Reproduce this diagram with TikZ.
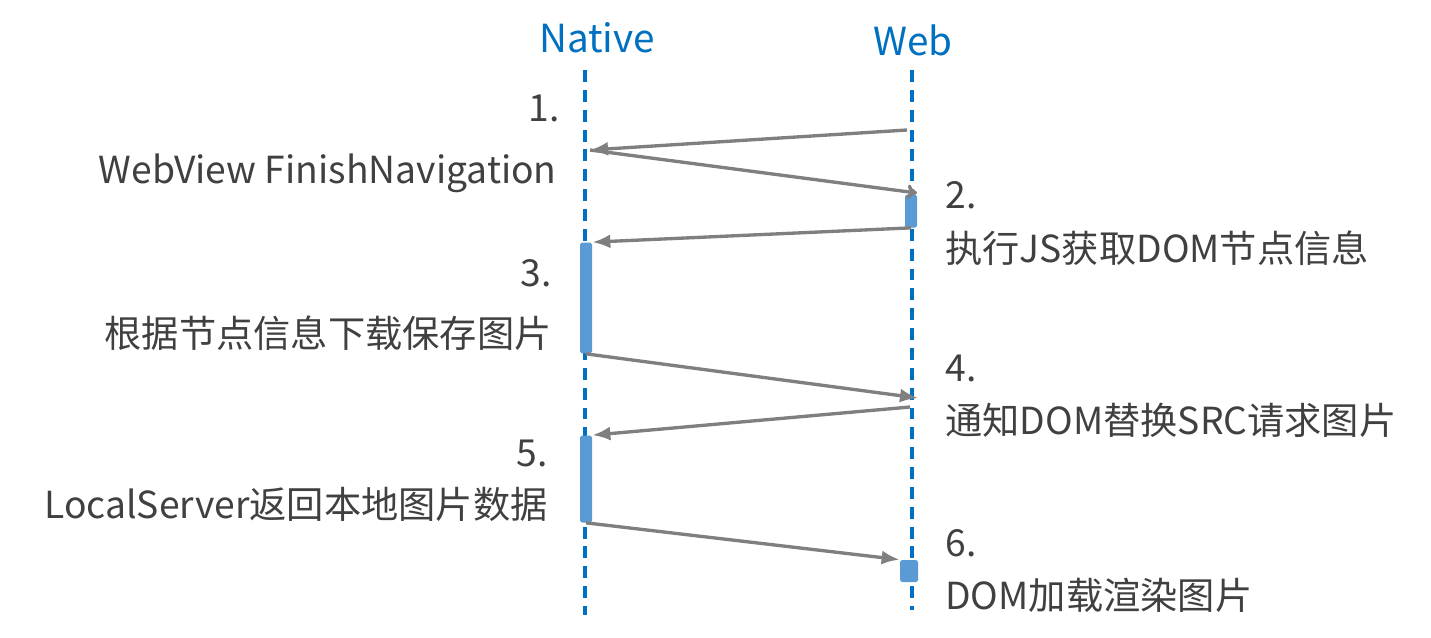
\documentclass[tikz,border=0pt]{standalone}
\usepackage{fontspec}
\setmainfont{Noto Sans CJK SC}
\usetikzlibrary{arrows.meta}
\definecolor{lifeblue}{HTML}{0070C0}
\definecolor{actblue}{HTML}{5B9BD5}
\definecolor{msggray}{HTML}{7F7F7F}
\definecolor{txtgray}{HTML}{404040}
\tikzset{
  lifeline/.style={lifeblue,line width=1.9pt,dash pattern=on 6.8pt off 4.5pt},
  act/.style={fill=actblue,draw=none,rounded corners=1pt,inner sep=0pt,minimum width=0.24cm},
  msg/.style={-{Latex[length=3.6mm,width=2.8mm]},msggray,line width=1.9pt},
  msgtext/.style={txtgray,inner sep=0pt,font=\fontsize{21.2}{26}\selectfont},
  head/.style={lifeblue,inner sep=0pt,font=\fontsize{22}{26}\selectfont}
}
\begin{document}
\begin{tikzpicture}[x=0.02cm,y=-0.02cm]
\useasboundingbox (0,0) rectangle (1431,637);
% heads and lifelines
\node[head,anchor=base] (native) at (597,52) {Native};
\node[head,anchor=base] (web) at (913,55) {Web};
\coordinate (nTop) at (585,70);
\coordinate (nBot) at (585,615);
\coordinate (wTop) at (912,70);
\coordinate (wBot) at (912,610);
\draw[lifeline] (nTop) -- (nBot);
\draw[lifeline] (wTop) -- (wBot);

% activation bars
\node[act,minimum height=0.66cm] (actW1) at (911,211) {};
\node[act,minimum height=2.22cm] (actN1) at (586,298) {};
\node[act,minimum height=1.74cm] (actN2) at (586,479) {};
\node[act,minimum width=0.36cm,minimum height=0.44cm] (actW2) at (909,571) {};

% labels
\node[msgtext,anchor=base east] (t1) at (560,121) {1.};
\node[msgtext,anchor=base east] (s1) at (557,183) {WebView FinishNavigation};
\node[msgtext,anchor=base west] (t2) at (945,208) {2.};
\node[msgtext,anchor=base west] (s2) at (945,262) {执行JS获取DOM节点信息};
\node[msgtext,anchor=base east] (t3) at (552,286) {3.};
\node[msgtext,anchor=base east] (s3) at (552,347) {根据节点信息下载保存图片};
\node[msgtext,anchor=base west] (t4) at (945,381) {4.};
\node[msgtext,anchor=base west] (s4) at (945,434) {通知DOM替换SRC请求图片};
\node[msgtext,anchor=base east] (t5) at (548,466) {5.};
\node[msgtext,anchor=base east] (s5) at (548,518) {LocalServer返回本地图片数据};
\node[msgtext,anchor=base west] (t6) at (945,556) {6.};
\node[msgtext,anchor=base west] (s6) at (945,609) {DOM加载渲染图片};

% messages
\coordinate (w1) at (907,130);
\coordinate (n1) at (590,150);
\coordinate (w2) at (917,193);
\coordinate (w3) at (918,398);
\coordinate (w4) at (910,407);
\draw[msg] (w1) -- (n1);
\draw[msggray,line width=1.9pt,-{To[length=2mm,width=3mm,open]}] (n1) -- (w2);
\draw[msg] (actW1.south) -- (actN1.north east);
\draw[msg] (actN1.south) -- (w3);
\draw[msg] (w4) -- (actN2.north east);
\draw[msg] (actN2.south) -- (actW2.north west);
\end{tikzpicture}
\end{document}
